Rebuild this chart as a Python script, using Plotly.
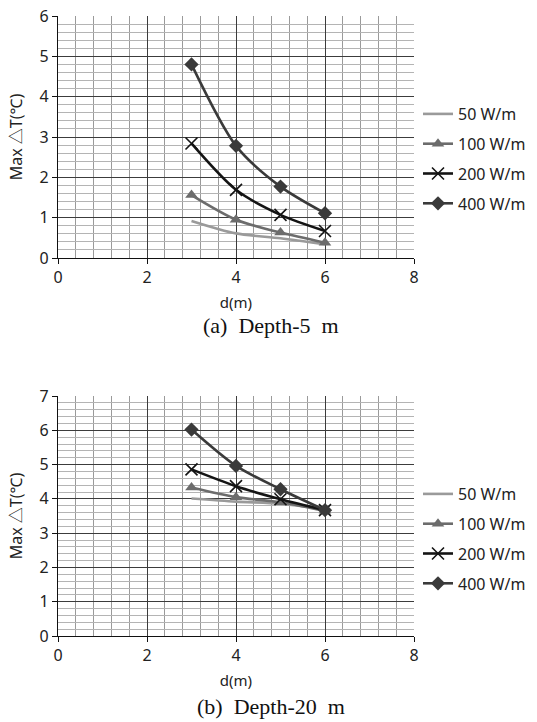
import plotly.graph_objects as go

# ---- data ----
d_values = [3, 4, 5, 6]
series_names = ["50 W/m", "100 W/m", "200 W/m", "400 W/m"]

# (a) Depth-5 m
a_50 = [0.92, 0.61, 0.49, 0.34]
a_100 = [1.56, 0.95, 0.63, 0.38]
a_200 = [2.84, 1.69, 1.07, 0.67]
a_400 = [4.80, 2.78, 1.77, 1.11]

# (b) Depth-20 m
b_50 = [4.01, 3.92, 3.86, 3.70]
b_100 = [4.33, 4.05, 3.90, 3.65]
b_200 = [4.86, 4.37, 3.99, 3.67]
b_400 = [6.02, 4.96, 4.28, 3.67]

x_ticks = [0, 2, 4, 6, 8]
captions = ["(a)\u00a0\u00a0Depth-5\u00a0\u00a0m", "(b)\u00a0\u00a0Depth-20\u00a0\u00a0m"]

W, H = 537, 722

colors = ["#9a9a9a", "#6c6c6c", "#141414", "#3a3a3a"]
markers = [None, dict(symbol="triangle-up", size=11),
           dict(symbol="x-thin-open", size=12, line=dict(width=1.6)),
           dict(symbol="diamond", size=11)]

FONT = "Noto Sans, Noto Sans CJK KR, sans-serif"

fig = go.Figure()

panels = [
    ("x", "y", "legend", [a_50, a_100, a_200, a_400]),
    ("x2", "y2", "legend2", [b_50, b_100, b_200, b_400]),
]
for xa, ya, lg, vals in panels:
    for i, (name, yv) in enumerate(zip(series_names, vals)):
        mk = markers[i]
        tr = dict(
            x=d_values, y=yv, name=name, xaxis=xa, yaxis=ya, legend=lg,
            legendgroup=f"{lg}-{i}",
            line=dict(color=colors[i], width=2.6, shape="spline", smoothing=0.8),
        )
        if mk is None:
            tr["mode"] = "lines"
        else:
            m = dict(mk)
            m["color"] = colors[i]
            if "line" in m:
                m["line"] = dict(m["line"], color=colors[i])
            tr["mode"] = "lines+markers"
            tr["marker"] = m
        fig.add_trace(go.Scatter(**tr))

def px_x(p):
    return p / W

def px_y(p):
    return 1 - p / H

major_grid = "#3c3c3c"
axis_common = dict(
    showline=True, linecolor="#111", linewidth=1.2,
    ticks="outside", ticklen=5, tickcolor="#111",
    tickfont=dict(family=FONT, size=16, color="#222"),
    showgrid=True, gridcolor=major_grid, gridwidth=1,
    zeroline=False, fixedrange=True, automargin=False,
)

fig.update_layout(
    width=W, height=H,
    margin=dict(l=0, r=0, t=0, b=0),
    paper_bgcolor="white", plot_bgcolor="white",
    font=dict(family=FONT, size=16, color="#222"),
    xaxis=dict(axis_common, domain=[px_x(58), px_x(414)], range=[0, 8],
               tickvals=x_ticks, anchor="y",
               minor=dict(dtick=0.4, showgrid=True, gridcolor="#9a9a9a", gridwidth=1),
               title=dict(text="d(m)", font=dict(family=FONT, size=15), standoff=10)),
    yaxis=dict(axis_common, domain=[px_y(258), px_y(16)], range=[0, 6],
               dtick=1, anchor="x",
               minor=dict(dtick=0.2, showgrid=True, gridcolor="#b4b4b4", gridwidth=1),
               title=dict(text="Max △T(℃)", font=dict(family=FONT, size=16), standoff=12)),
    xaxis2=dict(axis_common, domain=[px_x(58), px_x(414)], range=[0, 8],
                tickvals=x_ticks, anchor="y2",
                minor=dict(dtick=0.4, showgrid=True, gridcolor="#9a9a9a", gridwidth=1),
                title=dict(text="d(m)", font=dict(family=FONT, size=15), standoff=10)),
    yaxis2=dict(axis_common, domain=[px_y(636), px_y(396)], range=[0, 7],
                dtick=1, anchor="x2",
                minor=dict(dtick=0.2, showgrid=True, gridcolor="#b4b4b4", gridwidth=1),
                title=dict(text="Max △T(℃)", font=dict(family=FONT, size=16), standoff=12)),
    legend=dict(x=px_x(418), y=px_y(97), xanchor="left", yanchor="top",
                font=dict(family=FONT, size=16, color="#222"),
                tracegroupgap=6, traceorder="grouped", itemwidth=30,
                bgcolor="rgba(0,0,0,0)"),
    legend2=dict(x=px_x(418), y=px_y(477), xanchor="left", yanchor="top",
                 font=dict(family=FONT, size=16, color="#222"),
                 tracegroupgap=6, traceorder="grouped", itemwidth=30,
                 bgcolor="rgba(0,0,0,0)"),
    showlegend=True,
)

for text, ypx in zip(captions, [325, 706]):
    fig.add_annotation(
        text=text, x=px_x(271), y=px_y(ypx), xref="paper", yref="paper",
        xanchor="center", yanchor="middle", showarrow=False,
        font=dict(family="Liberation Serif, Times New Roman, serif", size=22, color="#111"),
    )

fig.write_html("out.html", config={"displayModeBar": False},
               post_script="document.body.style.margin='0';")
